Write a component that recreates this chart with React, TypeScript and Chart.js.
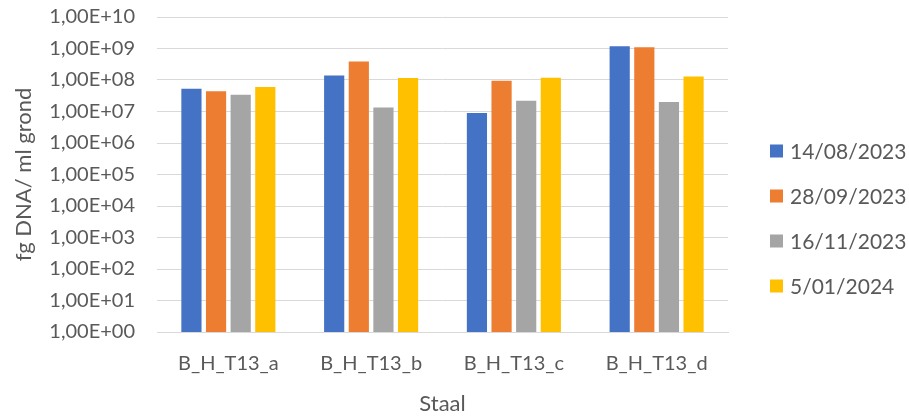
import React, { useEffect, useRef } from "react";
import { Chart, registerables } from "chart.js";

Chart.register(...registerables);

const categories = ["B_H_T13_a", "B_H_T13_b", "B_H_T13_c", "B_H_T13_d"];
const seriesNames = ["14/08/2023", "28/09/2023", "16/11/2023", "5/01/2024"];
const seriesColors = ["#4472C4", "#ED7D31", "#A5A5A5", "#FFC000"];
const series1 = [5.3e7, 1.4e8, 8.9e6, 1.18e9];
const series2 = [4.4e7, 3.9e8, 9.5e7, 1.1e9];
const series3 = [3.4e7, 1.35e7, 2.2e7, 2.0e7];
const series4 = [6.0e7, 1.15e8, 1.17e8, 1.3e8];
const yTickValues = [1, 1e1, 1e2, 1e3, 1e4, 1e5, 1e6, 1e7, 1e8, 1e9, 1e10];
const yTickLabels = [
  "1,00E+00", "1,00E+01", "1,00E+02", "1,00E+03", "1,00E+04", "1,00E+05",
  "1,00E+06", "1,00E+07", "1,00E+08", "1,00E+09", "1,00E+10",
];
const yTitle = "fg DNA/ ml grond";
const xTitle = "Staal";

const FONT = "Lato, 'Open Sans', sans-serif";
const TEXT = "#595959";

const sideLegend = {
  id: "sideLegend",
  afterDraw(chart: any) {
    const { ctx, chartArea } = chart;
    ctx.save();
    ctx.font = `21px ${FONT}`;
    ctx.textBaseline = "middle";
    ctx.textAlign = "left";
    chart.data.datasets.forEach((ds: any, i: number) => {
      const y = 151 + i * 45;
      const x = chartArea.right + 42;
      ctx.fillStyle = ds.backgroundColor;
      ctx.fillRect(x, y - 6.5, 13, 13);
      ctx.fillStyle = TEXT;
      ctx.fillText(ds.label, x + 20, y + 1);
    });
    ctx.restore();
  },
};

export default function App() {
  const ref = useRef<HTMLCanvasElement>(null);
  useEffect(() => {
    if (!ref.current) return;
    const values = [series1, series2, series3, series4];
    const chart = new Chart(ref.current, {
      type: "bar",
      data: {
        labels: categories,
        datasets: values.map((v, i) => ({
          label: seriesNames[i],
          data: v,
          backgroundColor: seriesColors[i],
          borderWidth: 0,
          barPercentage: 0.82,
          categoryPercentage: 0.69,
        })),
      },
      options: {
        responsive: false,
        animation: false,
        layout: { padding: { top: 17, right: 181, left: 0, bottom: 0 } },
        plugins: {
          legend: { display: false },
          tooltip: { enabled: false },
        },
        scales: {
          x: {
            grid: { display: false, drawTicks: false },
            border: { display: true, color: "#D9D9D9" },
            ticks: { color: TEXT, font: { family: FONT, size: 20 }, padding: 20 },
            title: {
              display: true,
              text: xTitle,
              color: TEXT,
              font: { family: FONT, size: 22 },
              padding: { top: 0, bottom: 0 },
            },
            afterFit(scale: any) {
              scale.height = 85;
            },
          },
          y: {
            type: "logarithmic",
            min: 1,
            max: 1e10,
            grid: { color: "#D9D9D9", drawTicks: false, lineWidth: 1 },
            border: { display: false },
            afterBuildTicks(scale: any) {
              scale.ticks = yTickValues.map((v) => ({ value: v }));
            },
            ticks: {
              color: TEXT,
              font: { family: FONT, size: 20 },
              padding: 22,
              autoSkip: false,
              callback: (_v: any, i: number) => yTickLabels[i],
            },
            title: {
              display: true,
              text: yTitle,
              color: TEXT,
              font: { family: FONT, size: 22 },
              padding: { top: 11, bottom: 0 },
            },
            afterFit(scale: any) {
              scale.width = 157;
              scale.paddingTop = 0;
              scale.paddingBottom = 0;
            },
          },
        },
      },
      plugins: [sideLegend],
    });
    return () => chart.destroy();
  }, []);
  return (
    <div style={{ position: "fixed", left: 0, top: 0, width: 909, height: 417, background: "#fff" }}>
      <canvas ref={ref} width={909} height={417} style={{ display: "block" }} />
    </div>
  );
}
